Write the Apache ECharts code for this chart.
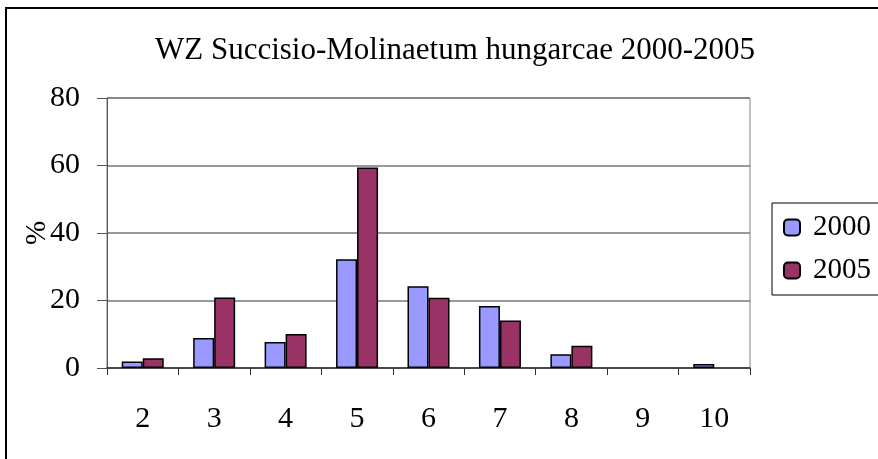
<!DOCTYPE html>
<html>
<head>
<meta charset="utf-8">
<script src="https://cdn.jsdelivr.net/npm/echarts@6/dist/echarts.min.js"></script>
<style>
  html, body { margin: 0; padding: 0; background: #fff; }
  #chart { width: 878px; height: 459px; }
</style>
</head>
<body>
<div id="chart"></div>
<script>
// kategóriák és értékek (%)
const categories = ['2', '3', '4', '5', '6', '7', '8', '9', '10']
const values2000 = [1.9, 8.9, 7.7, 32.2, 24.2, 18.4, 4.1, 0, 1.2]
const values2005 = [2.9, 20.9, 10.1, 59.4, 20.8, 14.1, 6.6, 0, 0]
const yTicks = [0, 20, 40, 60, 80]

const font = 'Liberation Serif'
// a nulla értékű oszlopokat nem rajzoljuk (nincs keret sem)
const noZero = (arr) => arr.map(v => v === 0 ? '-' : v)

let myChart = echarts.init(document.getElementById('chart'))

myChart.setOption({
  animation: false,
  textStyle: { fontFamily: font, color: '#000' },
  title: {
    text: 'WZ Succisio-Molinaetum hungarcae 2000-2005',
    left: 450,
    textAlign: 'center',
    top: 30,
    textStyle: { fontFamily: font, fontSize: 31, fontWeight: 'normal', color: '#000' }
  },
  // külső keret
  graphic: [{
    type: 'rect',
    shape: { x: 6, y: 8, width: 900, height: 480 },
    style: { fill: 'none', stroke: '#000', lineWidth: 2 },
    silent: true
  }],
  legend: {
    data: ['2000', '2005'],
    orient: 'vertical',
    left: 772,
    top: 203,
    padding: [10, 40, 10, 11],
    itemGap: 14,
    itemWidth: 16,
    itemHeight: 16,
    borderColor: '#000',
    borderWidth: 1,
    textStyle: { fontFamily: font, fontSize: 29, color: '#000', padding: [0, 0, 0, 8] }
  },
  grid: {
    left: 107,
    right: 128,
    top: 98,
    bottom: 91,
    show: true,
    borderColor: '#808080',
    borderWidth: 1
  },
  xAxis: {
    type: 'category',
    data: categories,
    axisLine: { lineStyle: { color: '#333', width: 1.5 } },
    axisTick: { show: true, length: 7, lineStyle: { color: '#333' } },
    axisLabel: { margin: 36, fontFamily: font, fontSize: 30, color: '#000' }
  },
  yAxis: {
    type: 'value',
    min: yTicks[0],
    max: yTicks[yTicks.length - 1],
    interval: 20,
    name: '%',
    nameLocation: 'middle',
    nameGap: 55,
    nameRotate: 90,
    nameMoveOverlap: false,
    nameTextStyle: { fontFamily: font, fontSize: 29, color: '#000' },
    axisLine: { show: true, lineStyle: { color: '#555', width: 1 } },
    axisTick: { show: true, length: 10, lineStyle: { color: '#555' } },
    splitLine: { lineStyle: { color: '#777', width: 1.5 } },
    axisLabel: { margin: 27, fontFamily: font, fontSize: 30, color: '#000' }
  },
  series: [
    {
      name: '2000',
      type: 'bar',
      data: noZero(values2000),
      barWidth: 21,
      barGap: '0%',
      itemStyle: { color: '#9999FF', borderColor: '#000', borderWidth: 1.5 }
    },
    {
      name: '2005',
      type: 'bar',
      data: noZero(values2005),
      barWidth: 21,
      barGap: '0%',
      itemStyle: { color: '#993366', borderColor: '#000', borderWidth: 1.5 }
    }
  ]
})
</script>
</body>
</html>
